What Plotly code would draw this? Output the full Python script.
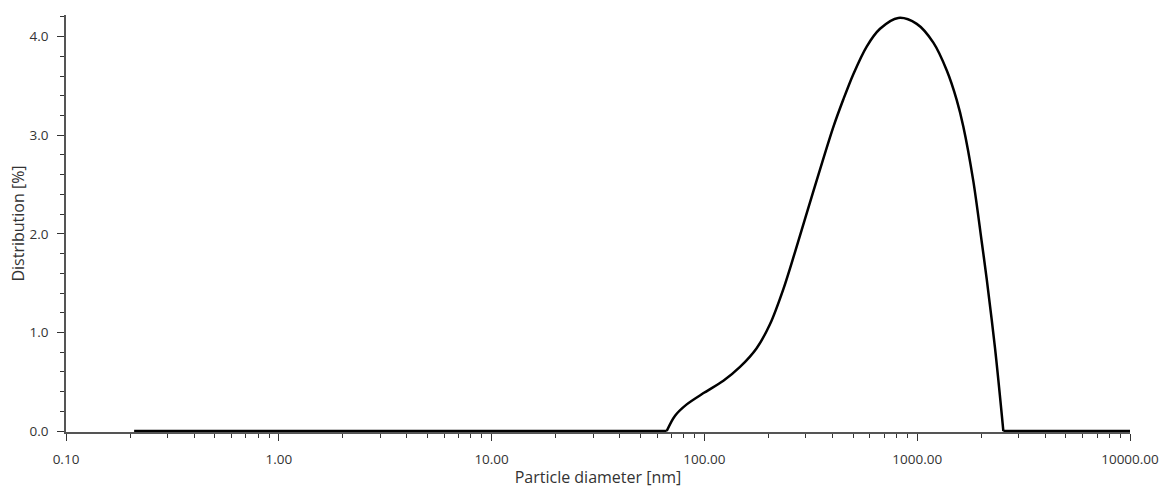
import plotly.graph_objects as go

# Particle diameter [nm] and distribution [%]
diameter_nm = [0.209, 66.5, 72.8, 82.6, 100, 122.8, 147, 176, 203, 235, 267,
               325, 403, 449, 501, 579, 669, 815, 995, 1191, 1376, 1533, 1647,
               1834, 2010, 2122, 2321, 2540, 10000]
distribution_pct = [0.0, 0.0, 0.155, 0.27, 0.39, 0.51, 0.65, 0.84, 1.08, 1.44, 1.82,
                    2.43, 3.08, 3.36, 3.62, 3.90, 4.08, 4.19, 4.13, 3.94, 3.66, 3.36, 3.09,
                    2.54, 1.92, 1.54, 0.84, 0.0, 0.0]

x_tick_vals = [0.1, 1, 10, 100, 1000, 10000]
x_tick_text = ["0.10", "1.00", "10.00", "100.00", "1000.00", "10000.00"]
y_tick_vals = [0, 1, 2, 3, 4]
y_tick_text = ["0.0", "1.0", "2.0", "3.0", "4.0"]

x_minor = [k * 10 ** e for e in range(-1, 4) for k in range(2, 10)]

line_style = dict(color="#000000", width=2.5)
n = len(diameter_nm)
# flat baseline on the left, the measured hump, flat baseline on the right
segments = [(0, 2, "linear"), (1, n - 1, "spline"), (n - 2, n, "linear")]

fig = go.Figure()
for a, b, shape in segments:
    fig.add_trace(go.Scatter(
        x=diameter_nm[a:b], y=distribution_pct[a:b], mode="lines",
        line=dict(**line_style, shape=shape, smoothing=0.9) if shape == "spline"
        else dict(**line_style, shape=shape),
        showlegend=False, hoverinfo="x+y",
    ))

font_family = "Open Sans, Noto Sans, DejaVu Sans, sans-serif"
fig.update_layout(
    width=1164, height=488,
    margin=dict(l=66, r=34, t=15, b=56),
    paper_bgcolor="white", plot_bgcolor="white",
    font=dict(family=font_family, size=13, color="#333333"),
    xaxis=dict(
        type="log", range=[-1, 4],
        tickvals=x_tick_vals, ticktext=x_tick_text,
        ticks="outside", ticklen=7, tickwidth=1.3, tickcolor="#333333",
        showline=True, linecolor="#555555", linewidth=1.6,
        showgrid=False, zeroline=False,
        tickfont=dict(size=13.5, color="#333333"),
        ticklabelstandoff=7,
        minor=dict(tickvals=x_minor, ticks="outside", ticklen=4, tickwidth=1.3,
                   tickcolor="#333333", showgrid=False),
        title=dict(text="Particle diameter [nm]", font=dict(size=16, color="#333333"), standoff=6),
        automargin=False,
    ),
    yaxis=dict(
        range=[-0.01, 4.22],
        tickvals=y_tick_vals, ticktext=y_tick_text,
        ticks="outside", ticklen=7, tickwidth=1.3, tickcolor="#333333",
        showline=True, linecolor="#555555", linewidth=1.6,
        showgrid=False, zeroline=False,
        tickfont=dict(size=13.5, color="#333333"),
        ticklabelstandoff=6,
        minor=dict(dtick=0.2, ticks="outside", ticklen=4, tickwidth=1.3,
                   tickcolor="#333333", showgrid=False),
        title=dict(text="Distribution [%]", font=dict(size=16, color="#333333"), standoff=1),
        automargin=False,
    ),
)

fig.write_html("out.html")
